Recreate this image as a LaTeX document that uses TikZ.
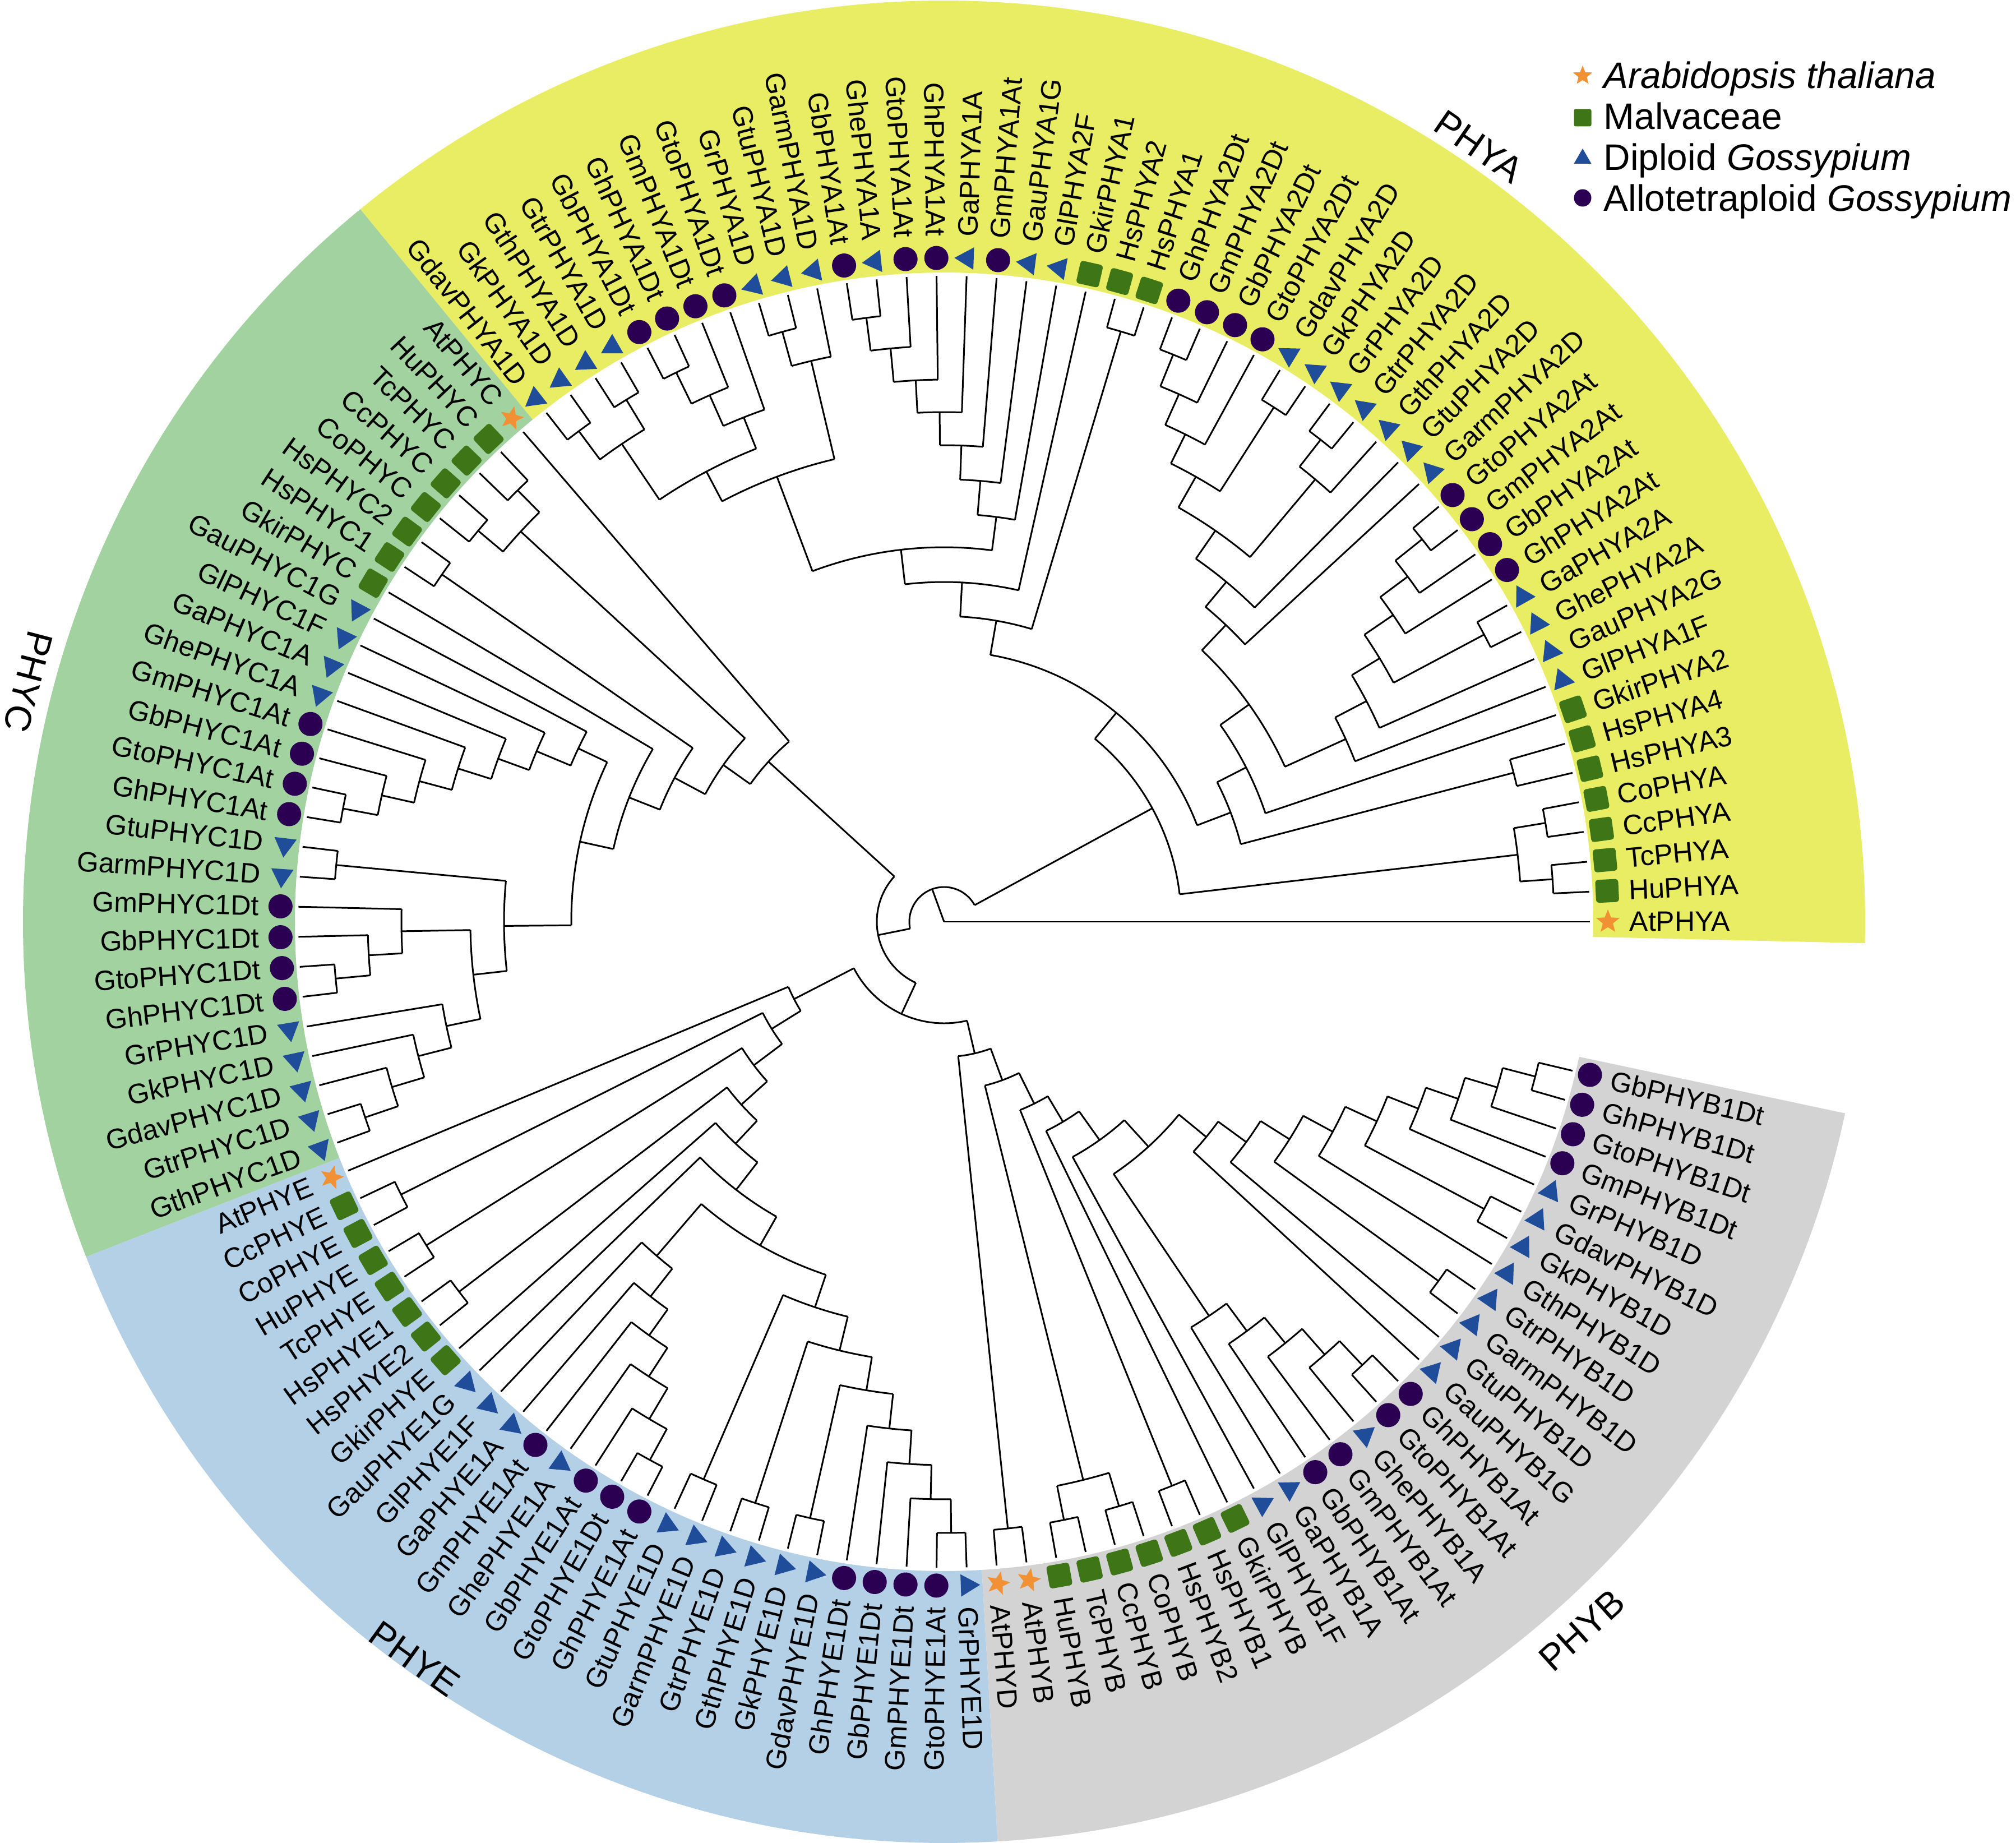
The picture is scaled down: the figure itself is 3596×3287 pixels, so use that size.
\documentclass[tikz,border=0pt]{standalone}
\usepackage{fontspec}
\setmainfont{Liberation Sans}
\usetikzlibrary{shapes.geometric}
\definecolor{bandA}{RGB}{233,237,99}
\definecolor{bandC}{RGB}{161,210,159}
\definecolor{bandE}{RGB}{179,208,230}
\definecolor{bandB}{RGB}{211,211,212}
\definecolor{mkstar}{RGB}{241,145,52}
\definecolor{mksq}{RGB}{62,117,22}
\definecolor{mktri}{RGB}{32,77,153}
\definecolor{mkcirc}{RGB}{43,0,82}
\tikzset{
  br/.style={line width=0.85pt, black, line cap=butt},
  mka/.style={star, star points=5, star point ratio=2.3, minimum size=0.44cm, inner sep=0, fill=mkstar, draw=none},
  mks/.style={rectangle, rounded corners=0.05cm, minimum size=0.41cm, inner sep=0, fill=mksq, draw=none},
  mkt/.style={regular polygon, regular polygon sides=3, minimum size=0.46cm, inner sep=0, fill=mktri, draw=none},
  mkc/.style={circle, minimum size=0.43cm, inner sep=0, fill=mkcirc, draw=none},
  lbl/.style={inner sep=0, font=\fontsize{14.2}{16}\selectfont},
  lgd/.style={inner sep=0, font=\fontsize{18.7}{22}\selectfont},
  clbl/.style={inner sep=0, font=\fontsize{18.7}{22}\selectfont}
}
\newcommand{\ctip}[2]{\draw[br] ({(#1)*8/3}:#2) -- ({(#1)*8/3}:1152);}
\newcommand{\cnode}[4]{%
  \draw[br] ({(#1)*8/3}:#3) arc[start angle={(#1)*8/3}, end angle={(#2)*8/3}, radius=#3];
  \draw[br] ({((#1)+(#2))*4/3}:#4) -- ({((#1)+(#2))*4/3}:#3);}
\newcommand{\cpair}[3]{\cnode{#1}{#1+1}{#2}{#3}\ctip{#1}{#2}\ctip{#1+1}{#2}}
\newcommand{\cband}[3]{%
  \fill[#1] ({(#2)*8/3}:1158) arc[start angle={(#2)*8/3}, end angle={(#3)*8/3}, radius=1158]
    -- ({(#3)*8/3}:1643) arc[start angle={(#3)*8/3}, end angle={(#2)*8/3}, radius=1643] -- cycle;}
\newcommand{\clab}[3]{%
  \pgfmathsetmacro\cang{(#1)*8/3}%
  \node[mk#2, rotate=\cang] (m#1) at (\cang:1184) {};%
  \pgfmathtruncatemacro\cflip{and(\cang>90,\cang<270)}%
  \ifnum\cflip=1
    \node[lbl, anchor=east, rotate=\cang-180] (t#1) at (\cang:1222) {#3};
  \else
    \node[lbl, anchor=west, rotate=\cang] (t#1) at (\cang:1222) {#3};
  \fi}
\begin{document}
\begin{tikzpicture}[x=0.01cm, y=0.01cm]
\useasboundingbox (-1684,-1643) rectangle (1912,1644);
% background bands
\cband{bandA}{-0.5}{48.5}
\cband{bandC}{48.5}{75.5}
\cband{bandE}{75.5}{102.5}
\cband{bandB}{102.5}{130.5}
% backbone
\ctip{0}{0}
\cnode{10.7208}{71.778}{62}{0}
\cnode{51.616}{91.94}{120}{62}
\cnode{77.721}{106.16}{181}{120}
% ---------------- PHYA
\cnode{2.5}{18.9416}{423}{62}
\cnode{1.5}{3.5}{1030}{423}
\cpair{1}{1088}{1030}
\cpair{3}{1087}{1030}
\cnode{7.8252}{30.058}{483}{423}
\cnode{5.5}{10.1504}{547}{483}
\cpair{5}{1050}{547}
\cnode{7}{13.3008}{605}{547} \ctip{7}{605}
\cnode{9.1719}{17.4297}{668}{605}
\cnode{8}{10.3438}{787}{668} \ctip{8}{787}
\cnode{9}{11.6875}{850}{787} \ctip{9}{850}
\cnode{10.5}{12.875}{908}{850}
\cpair{10}{1091}{908}
\cnode{12}{13.75}{970}{908} \ctip{12}{970}
\cnode{13}{14.5}{1031}{970} \ctip{13}{1031}
\cpair{14}{1092}{1031}
\cnode{16}{18.8594}{730}{668} \ctip{16}{730}
\cnode{17}{20.7188}{788}{730} \ctip{17}{788}
\cnode{18.75}{22.6875}{849}{788}
\cnode{18}{19.5}{1030}{849} \ctip{18}{1030}
\cpair{19}{1091}{1030}
\cnode{21.5}{23.875}{912}{849}
\cpair{21}{1090}{912}
\cnode{23}{24.75}{970}{912} \ctip{23}{970}
\cnode{24}{25.5}{1030}{970} \ctip{24}{1030}
\cpair{25}{1091}{1030}
\cnode{27.5}{32.615}{545}{483}
\cpair{27}{1099}{545}
\cnode{29}{36.23}{606}{545} \ctip{29}{606}
\cnode{30.992}{41.469}{668}{606}
\cnode{30}{31.984}{728}{668} \ctip{30}{728}
\cnode{31}{32.969}{789}{728} \ctip{31}{789}
\cnode{32}{33.9375}{850}{789} \ctip{32}{850}
\cnode{33}{34.875}{909}{850} \ctip{33}{909}
\cnode{34}{35.75}{967}{909} \ctip{34}{967}
\cnode{35}{36.5}{1027}{967} \ctip{35}{1027}
\cpair{36}{1086}{1027}
\cnode{38.75}{44.1875}{848}{668}
\cnode{38}{39.5}{1028}{848} \ctip{38}{1028}
\cpair{39}{1091}{1028}
\cnode{41.875}{46.5}{908}{848}
\cnode{41}{42.75}{968}{908} \ctip{41}{968}
\cnode{42}{43.5}{1028}{968} \ctip{42}{1028}
\cpair{43}{1090}{1028}
\cnode{45.5}{47.5}{1028}{908}
\cpair{45}{1090}{1028}
\cpair{47}{1091}{1028}
% ---------------- PHYC
\cnode{49}{54.231}{424}{120} \ctip{49}{424}
\cnode{51.5}{56.962}{483}{424}
\cnode{50.5}{52.5}{1027}{483}
\cpair{50}{1082}{1027}
\cpair{52}{1085}{1027}
\cnode{54.5}{59.424}{545}{483}
\cpair{54}{1089}{545}
\cnode{56}{62.848}{604}{545} \ctip{56}{604}
\cnode{57.992}{67.703}{665}{604}
\cnode{57}{58.984}{722}{665} \ctip{57}{722}
\cnode{58}{59.969}{788}{722} \ctip{58}{788}
\cnode{59}{60.9375}{847}{788} \ctip{59}{847}
\cnode{60}{61.875}{909}{847} \ctip{60}{909}
\cnode{61}{62.75}{969}{909} \ctip{61}{969}
\cnode{62}{63.5}{1028}{969} \ctip{62}{1028}
\cpair{63}{1091}{1028}
\cnode{65.5}{69.906}{785}{665}
\cpair{65}{1089}{785}
\cnode{67.875}{71.9375}{845}{785}
\cnode{67}{68.75}{968}{845} \ctip{67}{968}
\cnode{68}{69.5}{1028}{968} \ctip{68}{1028}
\cpair{69}{1090}{1028}
\cnode{71}{72.875}{907}{845} \ctip{71}{907}
\cnode{72}{73.75}{968}{907} \ctip{72}{968}
\cnode{73}{74.5}{1028}{968} \ctip{73}{1028}
\cpair{74}{1090}{1028}
% ---------------- PHYE
\cnode{76}{79.442}{301}{181} \ctip{76}{301}
\cnode{77.5}{81.384}{362}{301}
\cpair{77}{1084}{362}
\cnode{79.5}{83.268}{425}{362}
\cpair{79}{1089}{425}
\cnode{81.5}{85.036}{487}{425}
\cpair{81}{1088}{487}
\cnode{83}{87.072}{543}{487} \ctip{83}{543}
\cnode{84}{90.145}{605}{543} \ctip{84}{605}
\cnode{85.984}{94.305}{664}{605}
\cnode{85}{86.969}{786}{664} \ctip{85}{786}
\cnode{86}{87.9375}{849}{786} \ctip{86}{849}
\cnode{87}{88.875}{906}{849} \ctip{87}{906}
\cnode{88}{89.75}{967}{906} \ctip{88}{967}
\cnode{89}{90.5}{1031}{967} \ctip{89}{1031}
\cpair{90}{1094}{1031}
\cnode{92.5}{96.109}{725}{664}
\cpair{92}{1083}{725}
\cnode{94.5}{97.719}{787}{725}
\cpair{94}{1090}{787}
\cnode{96.5}{98.9375}{847}{787}
\cpair{96}{1090}{847}
\cnode{98}{99.875}{909}{847} \ctip{98}{909}
\cnode{99}{100.75}{969}{909} \ctip{99}{969}
\cnode{100}{101.5}{1030}{969} \ctip{100}{1030}
\cpair{101}{1090}{1030}
% ---------------- PHYB
\cnode{103.5}{108.82}{241}{181}
\cpair{103}{1088}{241}
\cnode{106.5}{111.14}{301}{241}
\cnode{105.5}{107.5}{1026}{301}
\cpair{105}{1088}{1026}
\cpair{107}{1088}{1026}
\cnode{109.5}{112.775}{362}{301}
\cpair{109}{1085}{362}
\cnode{111}{114.55}{415}{362} \ctip{111}{415}
\cnode{112}{117.1}{478}{415} \ctip{112}{478}
\cnode{113.969}{120.232}{542}{478}
\cnode{113}{114.9375}{847}{542} \ctip{113}{847}
\cnode{114}{115.875}{908}{847} \ctip{114}{908}
\cnode{115}{116.75}{967}{908} \ctip{115}{967}
\cnode{116}{117.5}{1028}{967} \ctip{116}{1028}
\cpair{117}{1087}{1028}
\cnode{119}{121.465}{605}{542} \ctip{119}{605}
\cnode{120}{122.93}{667}{605} \ctip{120}{667}
\cnode{121.5}{124.359}{728}{667}
\cpair{121}{1090}{728}
\cnode{123}{125.719}{788}{728} \ctip{123}{788}
\cnode{124.5}{126.9375}{850}{788}
\cpair{124}{1091}{850}
\cnode{126}{127.875}{909}{850} \ctip{126}{909}
\cnode{127}{128.75}{970}{909} \ctip{127}{970}
\cnode{128}{129.5}{1030}{970} \ctip{128}{1030}
\cpair{129}{1090}{1030}
% ---------------- leaf markers and labels
\clab{0}{a}{AtPHYA}
\clab{1}{s}{HuPHYA}
\clab{2}{s}{TcPHYA}
\clab{3}{s}{CcPHYA}
\clab{4}{s}{CoPHYA}
\clab{5}{s}{HsPHYA3}
\clab{6}{s}{HsPHYA4}
\clab{7}{s}{GkirPHYA2}
\clab{8}{t}{GlPHYA1F}
\clab{9}{t}{GauPHYA2G}
\clab{10}{t}{GhePHYA2A}
\clab{11}{t}{GaPHYA2A}
\clab{12}{c}{GhPHYA2At}
\clab{13}{c}{GbPHYA2At}
\clab{14}{c}{GmPHYA2At}
\clab{15}{c}{GtoPHYA2At}
\clab{16}{t}{GarmPHYA2D}
\clab{17}{t}{GtuPHYA2D}
\clab{18}{t}{GthPHYA2D}
\clab{19}{t}{GtrPHYA2D}
\clab{20}{t}{GrPHYA2D}
\clab{21}{t}{GkPHYA2D}
\clab{22}{t}{GdavPHYA2D}
\clab{23}{c}{GtoPHYA2Dt}
\clab{24}{c}{GbPHYA2Dt}
\clab{25}{c}{GmPHYA2Dt}
\clab{26}{c}{GhPHYA2Dt}
\clab{27}{s}{HsPHYA1}
\clab{28}{s}{HsPHYA2}
\clab{29}{s}{GkirPHYA1}
\clab{30}{t}{GlPHYA2F}
\clab{31}{t}{GauPHYA1G}
\clab{32}{c}{GmPHYA1At}
\clab{33}{t}{GaPHYA1A}
\clab{34}{c}{GhPHYA1At}
\clab{35}{c}{GtoPHYA1At}
\clab{36}{t}{GhePHYA1A}
\clab{37}{c}{GbPHYA1At}
\clab{38}{t}{GarmPHYA1D}
\clab{39}{t}{GtuPHYA1D}
\clab{40}{t}{GrPHYA1D}
\clab{41}{c}{GtoPHYA1Dt}
\clab{42}{c}{GmPHYA1Dt}
\clab{43}{c}{GhPHYA1Dt}
\clab{44}{c}{GbPHYA1Dt}
\clab{45}{t}{GtrPHYA1D}
\clab{46}{t}{GthPHYA1D}
\clab{47}{t}{GkPHYA1D}
\clab{48}{t}{GdavPHYA1D}
\clab{49}{a}{AtPHYC}
\clab{50}{s}{HuPHYC}
\clab{51}{s}{TcPHYC}
\clab{52}{s}{CcPHYC}
\clab{53}{s}{CoPHYC}
\clab{54}{s}{HsPHYC2}
\clab{55}{s}{HsPHYC1}
\clab{56}{s}{GkirPHYC}
\clab{57}{t}{GauPHYC1G}
\clab{58}{t}{GlPHYC1F}
\clab{59}{t}{GaPHYC1A}
\clab{60}{t}{GhePHYC1A}
\clab{61}{c}{GmPHYC1At}
\clab{62}{c}{GbPHYC1At}
\clab{63}{c}{GtoPHYC1At}
\clab{64}{c}{GhPHYC1At}
\clab{65}{t}{GtuPHYC1D}
\clab{66}{t}{GarmPHYC1D}
\clab{67}{c}{GmPHYC1Dt}
\clab{68}{c}{GbPHYC1Dt}
\clab{69}{c}{GtoPHYC1Dt}
\clab{70}{c}{GhPHYC1Dt}
\clab{71}{t}{GrPHYC1D}
\clab{72}{t}{GkPHYC1D}
\clab{73}{t}{GdavPHYC1D}
\clab{74}{t}{GtrPHYC1D}
\clab{75}{t}{GthPHYC1D}
\clab{76}{a}{AtPHYE}
\clab{77}{s}{CcPHYE}
\clab{78}{s}{CoPHYE}
\clab{79}{s}{HuPHYE}
\clab{80}{s}{TcPHYE}
\clab{81}{s}{HsPHYE1}
\clab{82}{s}{HsPHYE2}
\clab{83}{s}{GkirPHYE}
\clab{84}{t}{GauPHYE1G}
\clab{85}{t}{GlPHYE1F}
\clab{86}{t}{GaPHYE1A}
\clab{87}{c}{GmPHYE1At}
\clab{88}{t}{GhePHYE1A}
\clab{89}{c}{GbPHYE1At}
\clab{90}{c}{GtoPHYE1Dt}
\clab{91}{c}{GhPHYE1At}
\clab{92}{t}{GtuPHYE1D}
\clab{93}{t}{GarmPHYE1D}
\clab{94}{t}{GtrPHYE1D}
\clab{95}{t}{GthPHYE1D}
\clab{96}{t}{GkPHYE1D}
\clab{97}{t}{GdavPHYE1D}
\clab{98}{c}{GhPHYE1Dt}
\clab{99}{c}{GbPHYE1Dt}
\clab{100}{c}{GmPHYE1Dt}
\clab{101}{c}{GtoPHYE1At}
\clab{102}{t}{GrPHYE1D}
\clab{103}{a}{AtPHYD}
\clab{104}{a}{AtPHYB}
\clab{105}{s}{HuPHYB}
\clab{106}{s}{TcPHYB}
\clab{107}{s}{CcPHYB}
\clab{108}{s}{CoPHYB}
\clab{109}{s}{HsPHYB2}
\clab{110}{s}{HsPHYB1}
\clab{111}{s}{GkirPHYB}
\clab{112}{t}{GlPHYB1F}
\clab{113}{t}{GaPHYB1A}
\clab{114}{c}{GbPHYB1At}
\clab{115}{c}{GmPHYB1At}
\clab{116}{t}{GhePHYB1A}
\clab{117}{c}{GtoPHYB1At}
\clab{118}{c}{GhPHYB1At}
\clab{119}{t}{GauPHYB1G}
\clab{120}{t}{GtuPHYB1D}
\clab{121}{t}{GarmPHYB1D}
\clab{122}{t}{GtrPHYB1D}
\clab{123}{t}{GthPHYB1D}
\clab{124}{t}{GkPHYB1D}
\clab{125}{t}{GdavPHYB1D}
\clab{126}{t}{GrPHYB1D}
\clab{127}{c}{GmPHYB1Dt}
\clab{128}{c}{GtoPHYB1Dt}
\clab{129}{c}{GhPHYB1Dt}
\clab{130}{c}{GbPHYB1Dt}
% ---------------- clade labels
\node[clbl, rotate=-34.6] (cA) at (55.4:1680) {PHYA};
\node[clbl, rotate=255.3] (cC) at (165.3:1689) {PHYC};
\node[clbl, rotate=324.3] (cE) at (234.3:1619) {PHYE};
\node[clbl, rotate=42] (cB) at (312:1700) {PHYB};
% ---------------- legend
\node[mka, minimum size=0.36cm] (g1) at (1139,1509) {};
\node[lgd, anchor=base west] (h1) at (1176,1486) {\textit{Arabidopsis thaliana}};
\node[mks, minimum size=0.31cm, rounded corners=0.03cm] (g2) at (1139,1434) {};
\node[lgd, anchor=base west] (h2) at (1176,1413) {Malvaceae};
\node[mkt, minimum size=0.36cm] (g3) at (1139,1361) {};
\node[lgd, anchor=base west] (h3) at (1176,1340) {Diploid \textit{Gossypium}};
\node[mkc, minimum size=0.31cm] (g4) at (1139,1291) {};
\node[lgd, anchor=base west] (h4) at (1176,1267) {Allotetraploid \textit{Gossypium}};
\end{tikzpicture}
\end{document}
